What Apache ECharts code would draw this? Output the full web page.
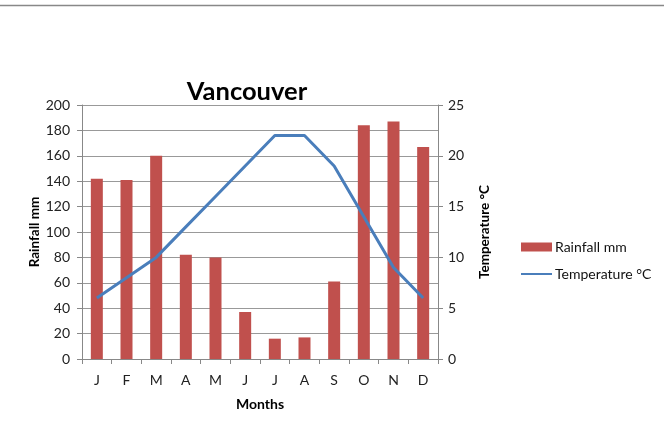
<!DOCTYPE html>
<html>
<head>
<meta charset="utf-8">
<script src="https://cdn.jsdelivr.net/npm/echarts@6/dist/echarts.min.js"></script>
<style>
html,body{margin:0;padding:0;background:#fff;}
#c{width:664px;height:424px;}
</style>
</head>
<body>
<div id="c"></div>
<script>
const months = ['J','F','M','A','M','J','J','A','S','O','N','D'];
const rainfall = [142, 141, 160, 82, 80, 37, 16, 17, 61, 184, 187, 167];
const temperature = [6, 8, 10, 13, 16, 19, 22, 22, 19, 14, 9, 6];
const rainTicks = {min: 0, max: 200, interval: 20};
const tempTicks = {min: 0, max: 25, interval: 5};

const font = 'Lato, "Open Sans", sans-serif';
const chart = echarts.init(document.getElementById('c'));
chart.setOption({
  animation: false,
  backgroundColor: '#fff',
  textStyle: {fontFamily: font},
  graphic: [{
    type: 'line', shape: {x1: 0, y1: 5.5, x2: 664, y2: 5.5},
    style: {stroke: '#888', lineWidth: 1.5}
  }],
  title: {
    text: 'Vancouver', left: 242, top: 74, textAlign: 'center',
    textStyle: {fontFamily: font, fontSize: 25.5, fontWeight: 'bold', color: '#000'}
  },
  legend: {
    orient: 'vertical', left: 516, top: 235, itemWidth: 31, itemHeight: 9, itemGap: 13,
    textStyle: {fontFamily: font, fontSize: 14, color: '#111', padding: [0, 0, 0, -2]},
    data: [
      {name: 'Rainfall mm', icon: 'rect'},
      {name: 'Temperature °C', icon: 'path://M0,3.5 L31,3.5 L31,5.5 L0,5.5 Z'}
    ]
  },
  grid: {left: 82, right: 226, top: 105, bottom: 65},
  xAxis: {
    type: 'category', data: months,
    name: 'Months', nameLocation: 'middle', nameGap: 38,
    nameTextStyle: {fontFamily: font, fontSize: 14, fontWeight: 'bold', color: '#000'},
    axisLine: {lineStyle: {color: '#888'}},
    axisTick: {show: true, length: 5, lineStyle: {color: '#888'}},
    axisLabel: {color: '#222', fontSize: 14, margin: 14}
  },
  yAxis: [{
    type: 'value', min: rainTicks.min, max: rainTicks.max, interval: rainTicks.interval,
    name: 'Rainfall mm', nameLocation: 'middle', nameGap: 40, nameMoveOverlap: false,
    nameTextStyle: {fontFamily: font, fontSize: 13.5, fontWeight: 'bold', color: '#000'},
    axisLine: {show: true, lineStyle: {color: '#888'}},
    axisTick: {show: true, length: 5, lineStyle: {color: '#888'}},
    axisLabel: {color: '#222', fontSize: 14, margin: 12},
    splitLine: {lineStyle: {color: '#999'}}
  }, {
    type: 'value', min: tempTicks.min, max: tempTicks.max, interval: tempTicks.interval,
    name: 'Temperature °C', nameLocation: 'middle', nameGap: 40,
    nameTextStyle: {fontFamily: font, fontSize: 13.5, fontWeight: 'bold', color: '#000'},
    axisLine: {show: true, lineStyle: {color: '#888'}},
    axisTick: {show: true, length: 5, lineStyle: {color: '#888'}},
    axisLabel: {color: '#222', fontSize: 14, margin: 10},
    splitLine: {show: false}
  }],
  series: [{
    name: 'Rainfall mm', type: 'bar', data: rainfall, barWidth: 12,
    itemStyle: {color: '#c0504d'}
  }, {
    name: 'Temperature °C', type: 'line', yAxisIndex: 1, data: temperature,
    symbol: 'none', lineStyle: {color: '#4a7ebb', width: 3}, itemStyle: {color: '#4a7ebb'}
  }]
});
</script>
</body>
</html>
